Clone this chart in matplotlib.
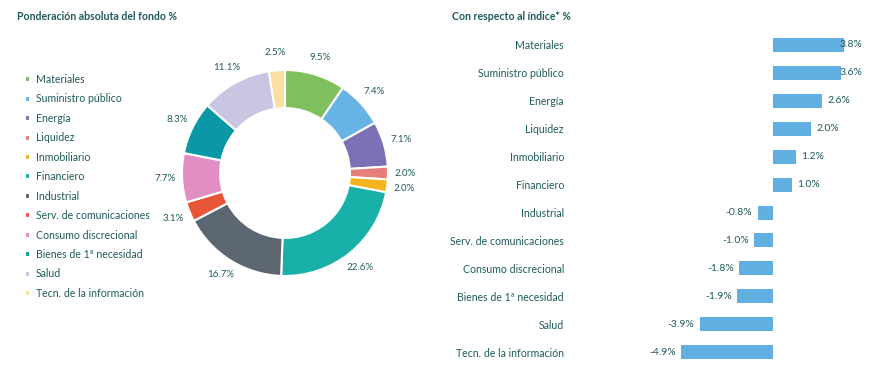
import matplotlib.pyplot as plt

plt.rcParams['font.family'] = ['Lato', 'DejaVu Sans']

TXT = '#1f5b59'

sectores = ['Materiales', 'Suministro público', 'Energía', 'Liquidez', 'Inmobiliario',
            'Financiero', 'Industrial', 'Serv. de comunicaciones', 'Consumo discrecional',
            'Bienes de 1ª necesidad', 'Salud', 'Tecn. de la información']
peso_fondo = [9.5, 7.4, 7.1, 2.0, 2.0, 22.6, 16.7, 3.1, 7.7, 8.3, 11.1, 2.5]
vs_indice = [3.8, 3.6, 2.6, 2.0, 1.2, 1.0, -0.8, -1.0, -1.8, -1.9, -3.9, -4.9]
colores = ['#80bf5e', '#67b4e4', '#7b71b7', '#e67e7a', '#f6b31d', '#19b0aa',
           '#5b6670', '#e8563a', '#e18ec3', '#0a97a6', '#c9c6e3', '#fbe0a1']

W, H = 874, 365
fig = plt.figure(figsize=(W / 100, H / 100), dpi=100)

# donut
cx, cy, r, half = 285, 173, 103, 130
ax = fig.add_axes([(cx - half) / W, (H - cy - half) / H, 2 * half / W, 2 * half / H])
etiquetas = [f'{v:.1f}%' for v in peso_fondo]
wedges, texts = ax.pie(peso_fondo, colors=colores, startangle=90, counterclock=False,
                       radius=1, labels=etiquetas, labeldistance=1.17,
                       wedgeprops=dict(width=0.37, edgecolor='white', linewidth=1.5),
                       textprops=dict(color=TXT, fontsize=7))
for t in texts:
    t.set_ha('center')
    t.set_va('center')
lim = half / r
ax.set_xlim(-lim, lim)
ax.set_ylim(-lim, lim)
ax.set_aspect('equal')

fig.legend(wedges, sectores, loc='upper left', bbox_to_anchor=(25 / W, 1 - 74 / H),
           frameon=False, fontsize=7.6, labelcolor=TXT, handlelength=0.5, handleheight=0.5,
           handletextpad=0.55, labelspacing=0.80, borderaxespad=0, borderpad=0)

fig.text(17 / W, 1 - 17 / H, 'Ponderación absoluta del fondo %', fontsize=7.6,
         fontweight='bold', color=TXT, va='center')
fig.text(452 / W, 1 - 17 / H, 'Con respecto al índice* %', fontsize=7.6,
         fontweight='bold', color=TXT, va='center')

# barras
x0, escala = 773, 18.75
left_px, right_px = 600, 860
bx = fig.add_axes([left_px / W, 0, (right_px - left_px) / W, 334 / H])
pos = list(range(len(sectores)))
bx.barh(pos, vs_indice, height=0.5, color='#62b0e2')
bx.set_xlim((left_px - x0) / escala, (right_px - x0) / escala)
bx.set_ylim(11.46, -0.5)
bx.set_yticks(pos)
bx.set_yticklabels(sectores, fontsize=7.6, color=TXT)
bx.tick_params(axis='y', length=0, pad=26)
bx.set_xticks([])
for s in bx.spines.values():
    s.set_visible(False)
tope = (840 - x0) / escala
for i, v in enumerate(vs_indice):
    if v >= 0:
        bx.text(min(v + 0.3, tope), i, f'{v:.1f}%', ha='left', va='center',
                fontsize=7.5, color=TXT)
    else:
        bx.text(v - 0.3, i, f'{v:.1f}%', ha='right', va='center',
                fontsize=7.5, color=TXT)

fig.savefig('out.png', dpi=100)
